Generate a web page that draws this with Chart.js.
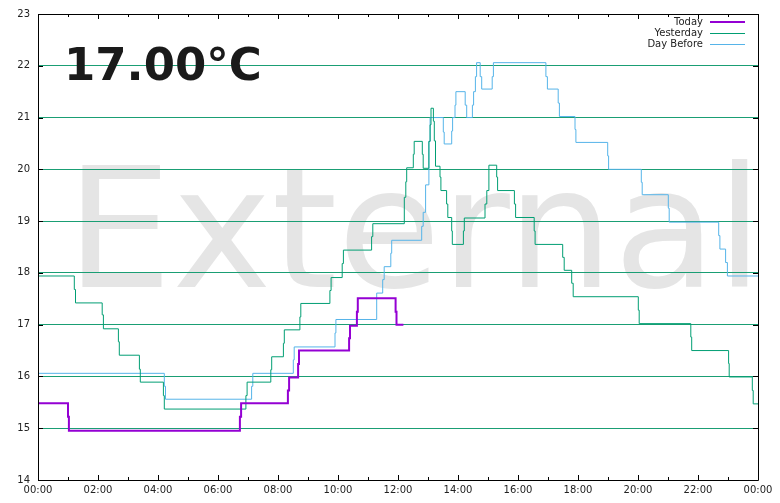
<!DOCTYPE html>
<html>
<head>
<meta charset="utf-8">
<title>Temperature</title>
<script src="https://cdn.jsdelivr.net/npm/chart.js@4.4.1/dist/chart.umd.min.js"></script>
<style>
  html, body { margin: 0; padding: 0; background: #fff; }
  #chart { display: block; }
</style>
</head>
<body>
<canvas id="chart" width="780" height="503"></canvas>
<script>
// hours of the day where the reading changes, and the reading from there on
var todayHours = [0, 1.0, 1.03, 6.73, 6.77, 8.33, 8.37, 8.67, 8.70, 10.37, 10.40, 10.63, 10.66, 11.92, 11.95, 12.18];
var todayTemps = [15.48, 15.22, 14.95, 15.22, 15.48, 15.73, 15.98, 16.24, 16.50, 16.74, 16.98, 17.25, 17.51, 17.25, 17.00, 17.00];

var yesterdayHours = [0, 1.21, 1.25, 2.14, 2.18, 2.68, 2.71, 3.38, 3.41, 4.18, 4.21, 6.93, 6.97, 7.76, 7.79,
  8.18, 8.21, 8.73, 8.76, 9.73, 9.77, 10.14, 10.18, 11.12, 11.16, 12.21, 12.26, 12.29, 12.51, 12.54,
  12.81, 12.84, 13.03, 13.07, 13.10, 13.18, 13.21, 13.25, 13.40, 13.43, 13.62, 13.66, 13.79, 13.81,
  14.18, 14.21, 14.90, 14.96, 15.03, 15.29, 15.32, 15.88, 15.92, 16.54, 16.57, 17.49, 17.54, 17.79, 17.84,
  20.01, 20.04, 21.76, 21.79, 23.02, 23.04, 23.81, 23.84, 24];
var yesterdayTemps = [17.94, 17.68, 17.42, 17.19, 16.92, 16.67, 16.41, 16.14, 15.89, 15.63, 15.37, 15.63, 15.89, 16.13, 16.38,
  16.64, 16.90, 17.15, 17.41, 17.66, 17.91, 18.18, 18.44, 18.70, 18.95, 19.46, 19.76, 20.03, 20.29, 20.54,
  20.29, 20.02, 20.54, 20.86, 21.18, 20.93, 20.55, 20.06, 19.85, 19.59, 19.33, 19.07, 18.81, 18.55,
  18.81, 19.06, 19.33, 19.59, 20.08, 19.85, 19.59, 19.33, 19.07, 18.81, 18.55, 18.30, 18.05, 17.80, 17.54,
  17.28, 17.02, 16.76, 16.50, 16.25, 15.99, 15.73, 15.47, 15.47];

var dayBeforeHours = [0, 4.21, 4.25, 7.12, 7.16, 8.51, 8.54, 9.90, 9.93, 11.29, 11.49, 11.54, 11.76, 11.79,
  12.79, 12.84, 12.92, 13.03, 13.07, 13.51, 13.54, 13.79, 13.82, 13.90, 13.93, 14.24, 14.29, 14.48, 14.52,
  14.58, 14.62, 14.74, 14.79, 15.14, 15.18, 16.93, 16.98, 17.34, 17.38, 17.90, 17.93, 18.99, 19.02,
  20.11, 20.14, 21.01, 21.04, 22.69, 22.73, 22.92, 22.98, 24];
var dayBeforeTemps = [16.06, 15.81, 15.56, 15.81, 16.06, 16.32, 16.57, 16.84, 17.10, 17.61, 17.87, 18.12, 18.38, 18.63,
  18.90, 19.17, 19.70, 20.54, 21.00, 20.72, 20.49, 20.74, 21.00, 21.24, 21.50, 21.24, 21.00, 21.24, 21.50,
  21.79, 22.06, 21.79, 21.55, 21.79, 22.06, 21.79, 21.55, 21.28, 21.02, 20.77, 20.52, 20.26, 20.00,
  19.75, 19.51, 19.25, 18.98, 18.72, 18.46, 18.20, 17.94, 17.94];

var seriesNames = ["Today", "Yesterday", "Day Before"];
var currentReading = "17.00°C";
var watermark = "External";

var colors = ["#9400d3", "#009e73", "#56b4e9"];
var gridColor = "#1a9e74";
var textColor = "#222";

function toPoints(hours, temps) {
  var pts = [];
  for (var i = 0; i < hours.length; i++) {
    pts.push({ x: hours[i], y: temps[i] });
  }
  return pts;
}

function hourLabel(v) {
  var h = v % 24;
  return (h < 10 ? "0" : "") + h + ":00";
}

// gnuplot-ish frame: watermark underneath, inward ticks, big reading and legend on top
var decorations = {
  id: "decorations",
  beforeDraw: function(chart) {
    var ctx = chart.ctx;
    ctx.save();
    ctx.fillStyle = "#e5e5e5";
    ctx.font = "168px 'DejaVu Sans'";
    ctx.textBaseline = "alphabetic";
    ctx.fillText(watermark, 66, 287);
    ctx.restore();
  },
  afterDraw: function(chart) {
    var ctx = chart.ctx;
    var a = chart.chartArea;
    var xs = chart.scales.x;
    var ys = chart.scales.y;
    ctx.save();
    ctx.strokeStyle = "#000";
    ctx.lineWidth = 1;
    ctx.beginPath();
    ctx.rect(Math.round(a.left) + 0.5, Math.round(a.top) + 0.5, Math.round(a.right - a.left), Math.round(a.bottom - a.top));
    for (var h = 0; h <= 24; h++) {
      var px = Math.round(xs.getPixelForValue(h)) + 0.5;
      var len = h % 2 === 0 ? 5 : 3;
      ctx.moveTo(px, a.bottom);
      ctx.lineTo(px, a.bottom - len);
      ctx.moveTo(px, a.top);
      ctx.lineTo(px, a.top + len);
    }
    for (var t = 14; t <= 23; t++) {
      var py = Math.round(ys.getPixelForValue(t)) + 0.5;
      ctx.moveTo(a.left, py);
      ctx.lineTo(a.left + 5, py);
      ctx.moveTo(a.right, py);
      ctx.lineTo(a.right - 5, py);
    }
    ctx.stroke();

    // current reading
    ctx.fillStyle = "#1a1a1a";
    ctx.font = "bold 45px 'DejaVu Sans'";
    ctx.textBaseline = "alphabetic";
    ctx.fillText(currentReading, 64, 80);

    // legend
    ctx.font = "10px 'DejaVu Sans'";
    ctx.textAlign = "right";
    ctx.textBaseline = "middle";
    var widths = [2, 1, 1];
    for (var i = 0; i < seriesNames.length; i++) {
      var y = 22 + i * 11;
      ctx.fillStyle = textColor;
      ctx.fillText(seriesNames[i], 703, y);
      ctx.strokeStyle = colors[i];
      ctx.lineWidth = widths[i];
      ctx.beginPath();
      ctx.moveTo(710, y + (i === 0 ? 0 : 0.5));
      ctx.lineTo(745, y + (i === 0 ? 0 : 0.5));
      ctx.stroke();
    }
    ctx.restore();
  }
};

var chart = new Chart(document.getElementById("chart"), {
  type: "line",
  data: {
    datasets: [
      {
        label: seriesNames[0],
        data: toPoints(todayHours, todayTemps),
        borderColor: colors[0],
        borderWidth: 2,
        stepped: "before",
        pointRadius: 0,
        fill: false
      },
      {
        label: seriesNames[1],
        data: toPoints(yesterdayHours, yesterdayTemps),
        borderColor: colors[1],
        borderWidth: 1,
        stepped: "before",
        pointRadius: 0,
        fill: false
      },
      {
        label: seriesNames[2],
        data: toPoints(dayBeforeHours, dayBeforeTemps),
        borderColor: colors[2],
        borderWidth: 1,
        stepped: "before",
        pointRadius: 0,
        fill: false
      }
    ]
  },
  options: {
    responsive: false,
    animation: false,
    devicePixelRatio: 1,
    layout: { padding: { top: 10, right: 22, left: 0, bottom: 0 } },
    plugins: {
      legend: { display: false },
      tooltip: { enabled: false }
    },
    scales: {
      x: {
        type: "linear",
        min: 0,
        max: 24,
        grid: { display: false, drawTicks: false },
        border: { display: false },
        ticks: {
          stepSize: 2,
          padding: 4,
          maxRotation: 0,
          color: textColor,
          font: { family: "'DejaVu Sans'", size: 10 },
          callback: hourLabel
        },
        afterFit: function(scale) { scale.height = 23; }
      },
      y: {
        min: 14,
        max: 23,
        grid: { color: gridColor, lineWidth: 1, drawTicks: false },
        border: { display: false },
        ticks: {
          stepSize: 1,
          padding: 8,
          color: textColor,
          font: { family: "'DejaVu Sans'", size: 10 }
        },
        afterFit: function(scale) { scale.width = 38; }
      }
    }
  },
  plugins: [decorations]
});
</script>
</body>
</html>
